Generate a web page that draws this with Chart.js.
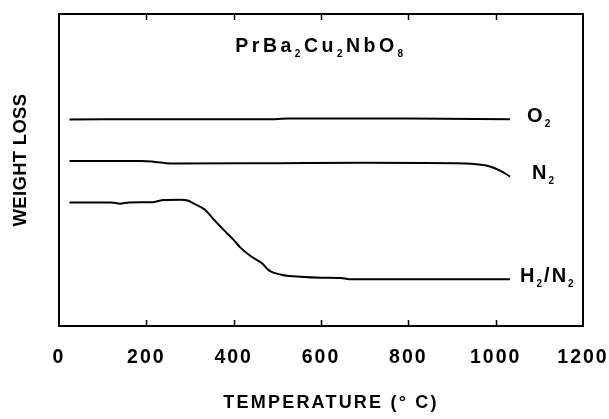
<!doctype html>
<html lang="en">
<head>
    <meta charset="utf-8">
    <title>PrBa2Cu2NbO8 weight loss</title>
    <style>
        * { margin: 0; padding: 0; }
        body { background: #fff; }
        .chartBox { width: 609px; height: 419px; }
    </style>
</head>
<body>
<div class="chartBox">
    <canvas id="myChart" width="609" height="419"></canvas>
</div>
<script src="https://cdn.jsdelivr.net/npm/chart.js"></script>
<script>
    // data: [temperature (°C), relative weight (arb. units)]
    const o2Curve = [
        [24, 66.2], [250, 66.3], [495, 66.3], [525, 66.5], [800, 66.5], [1033, 66.3]
    ];
    const n2Curve = [
        [24, 52.9], [190, 52.9], [220, 52.6], [255, 52.1], [500, 52.2], [700, 52.3],
        [930, 52.1], [960, 51.8], [985, 51.2], [1010, 49.8], [1033, 47.9]
    ];
    const h2n2Curve = [
        [24, 39.6], [120, 39.6], [140, 39.2], [160, 39.6], [215, 39.7], [240, 40.4],
        [278, 40.5], [295, 40.2], [308, 39.3], [335, 37.2], [354, 34.2], [377, 30.8],
        [400, 27.6], [415, 25.2], [438, 22.5], [465, 20.1], [480, 17.9], [491, 17.1],
        [514, 16.3], [553, 15.8], [600, 15.5], [645, 15.4], [665, 15.0], [1033, 15.0]
    ];
    const tempTicks = [0, 200, 400, 600, 800, 1000, 1200];

    // label pieces: [text, subscript?]
    const titleParts = [['PrBa', 0], ['2', 1], ['Cu', 0], ['2', 1], ['NbO', 0], ['8', 1]];
    const seriesLabels = [
        {parts: [['O', 0], ['2', 1]], dx: 17, dy: 3},
        {parts: [['N', 0], ['2', 1]], dx: 22, dy: 2},
        {parts: [['H', 0], ['2', 1], ['/N', 0], ['2', 1]], dx: 10, dy: 3}
    ];

    const FONT = '"Liberation Sans", Arial, Helvetica, sans-serif';

    function drawParts(ctx, parts, x, y, size, subSize, spacing, align) {
        ctx.letterSpacing = spacing + 'px';
        const widths = parts.map(([t, sub]) => {
            ctx.font = 'bold ' + (sub ? subSize : size) + 'px ' + FONT;
            return ctx.measureText(t).width;
        });
        const total = widths.reduce((a, b) => a + b, 0);
        let cx = align === 'center' ? x - total / 2 : x;
        ctx.textAlign = 'left';
        ctx.textBaseline = 'alphabetic';
        parts.forEach(([t, sub], i) => {
            ctx.font = 'bold ' + (sub ? subSize : size) + 'px ' + FONT;
            ctx.fillText(t, cx, sub ? y + 5 : y);
            cx += widths[i];
        });
    }

    const frame = {
        id: 'frame',
        beforeDraw(chart) {
            chart.ctx.letterSpacing = '2px';
        },
        afterDraw(chart) {
            const {ctx, chartArea: {top, bottom, left, right, width, height}, scales: {x, y}} = chart;
            ctx.save();
            ctx.letterSpacing = '0px';
            ctx.strokeStyle = '#000';
            ctx.lineWidth = 2;
            ctx.strokeRect(left, top, width, height);

            // inward ticks, top and bottom
            ctx.beginPath();
            tempTicks.slice(1, -1).forEach(v => {
                const px = Math.round(x.getPixelForValue(v)) + 0.5;
                ctx.moveTo(px, bottom);
                ctx.lineTo(px, bottom - 6);
                ctx.moveTo(px, top);
                ctx.lineTo(px, top + 6);
            });
            ctx.lineWidth = 1.5;
            ctx.stroke();

            ctx.fillStyle = '#000';
            // title
            drawParts(ctx, titleParts, (left + right) / 2, 52, 19.5, 10, 3.5, 'center');

            // series labels next to the curve ends
            [o2Curve, n2Curve, h2n2Curve].forEach((curve, i) => {
                const last = curve[curve.length - 1];
                const lab = seriesLabels[i];
                drawParts(ctx, lab.parts, x.getPixelForValue(last[0]) + lab.dx,
                    y.getPixelForValue(last[1]) + lab.dy, 20, 10, 2, 'left');
            });

            // axis titles
            ctx.letterSpacing = '2.2px';
            ctx.font = 'bold 18px ' + FONT;
            ctx.textAlign = 'center';
            ctx.textBaseline = 'alphabetic';
            ctx.fillText('TEMPERATURE (° C)', 331, 408);

            ctx.letterSpacing = '0.3px';
            ctx.font = 'bold 18.5px ' + FONT;
            ctx.translate(26, 160);
            ctx.rotate(-Math.PI / 2);
            ctx.fillText('WEIGHT LOSS', 0, 0);
            ctx.restore();
        }
    };

    const lineStyle = {
        borderColor: '#000',
        backgroundColor: '#000',
        borderWidth: 2,
        pointRadius: 0,
        cubicInterpolationMode: 'monotone',
        fill: false
    };

    const data = {
        datasets: [
            {label: 'O2', data: o2Curve.map(([t, w]) => ({x: t, y: w})), ...lineStyle},
            {label: 'N2', data: n2Curve.map(([t, w]) => ({x: t, y: w})), ...lineStyle},
            {label: 'H2/N2', data: h2n2Curve.map(([t, w]) => ({x: t, y: w})), ...lineStyle}
        ]
    };

    const config = {
        type: 'line',
        data,
        options: {
            responsive: false,
            animation: false,
            devicePixelRatio: 1,
            layout: {padding: {top: 14, right: 26, left: 0, bottom: 0}},
            plugins: {
                legend: {display: false},
                tooltip: {enabled: false}
            },
            scales: {
                x: {
                    type: 'linear',
                    min: 0,
                    max: 1200,
                    afterFit(s) {
                        s.height = 93;
                        s.paddingLeft = 0;
                        s.paddingRight = 0;
                    },
                    afterBuildTicks(s) { s.ticks = tempTicks.map(v => ({value: v})); },
                    grid: {display: false, drawTicks: false},
                    border: {display: false},
                    ticks: {
                        padding: 20,
                        color: '#000',
                        maxRotation: 0,
                        autoSkip: false,
                        callback: v => String(v),
                        font: {family: FONT, size: 19.5, weight: 'bold'}
                    }
                },
                y: {
                    type: 'linear',
                    min: 0,
                    max: 100,
                    afterFit(s) { s.width = 59; },
                    grid: {display: false, drawTicks: false},
                    border: {display: false},
                    ticks: {display: false}
                }
            }
        },
        plugins: [frame]
    };

    const myChart = new Chart(document.getElementById('myChart'), config);
</script>
</body>
</html>
